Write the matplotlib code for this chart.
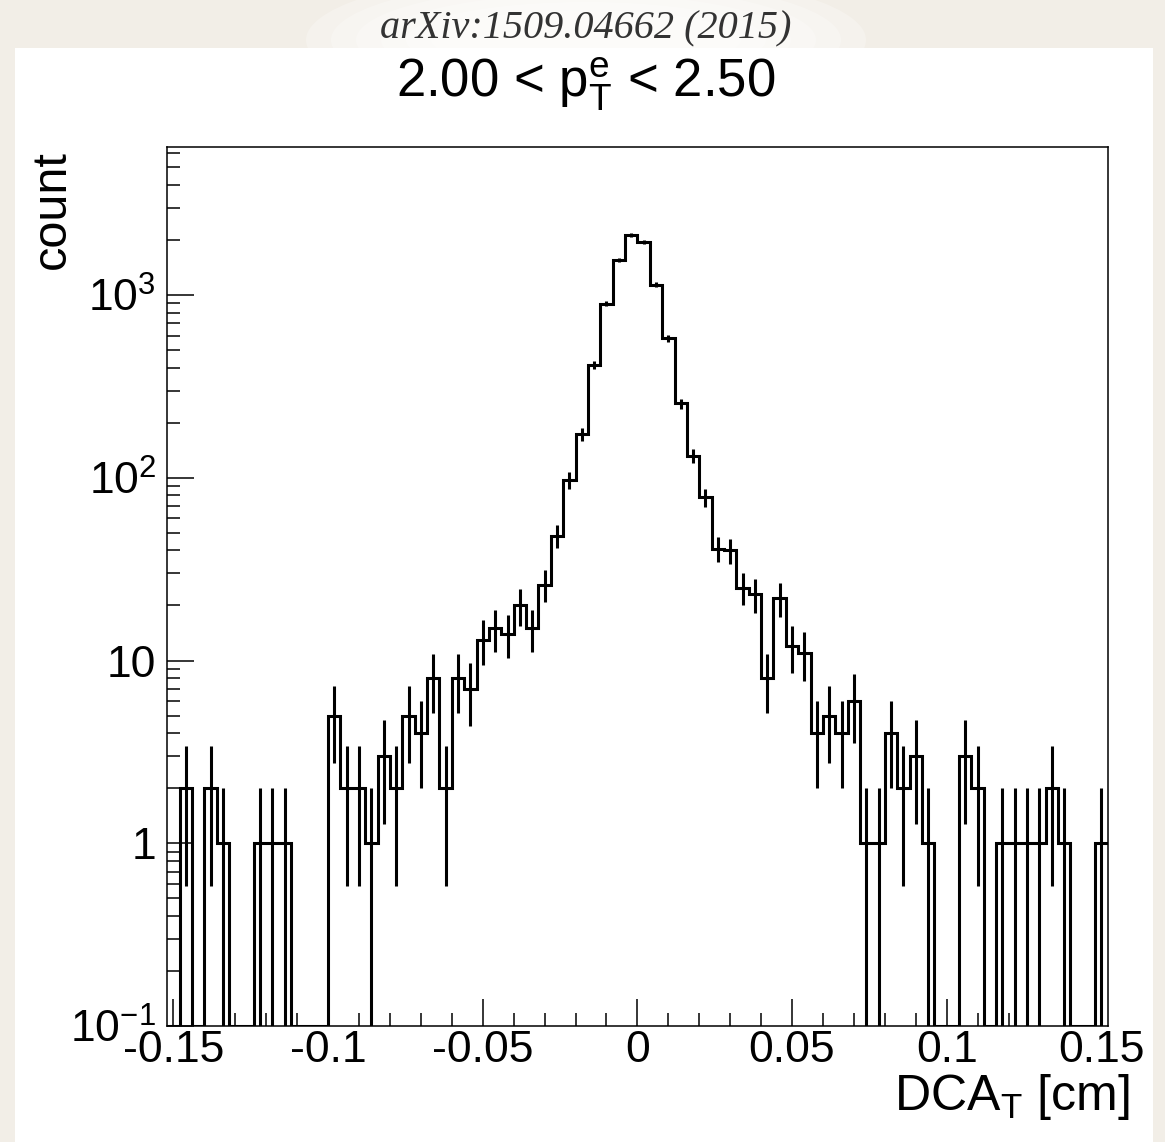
import numpy as np
import matplotlib.pyplot as plt
from matplotlib.patches import Rectangle, Ellipse
from matplotlib.ticker import FixedLocator, FixedFormatter, MultipleLocator, LogLocator, NullFormatter, FuncFormatter

plt.rcParams['font.family'] = ['Liberation Sans', 'DejaVu Sans']
plt.rcParams['mathtext.fontset'] = 'custom'
plt.rcParams['mathtext.rm'] = 'Liberation Sans'
plt.rcParams['mathtext.it'] = 'Liberation Sans:italic'
plt.rcParams['mathtext.bf'] = 'Liberation Sans:bold'

# DCA_T histogram, 76 bins of 0.004 cm from -0.152 to 0.152
bin_lo = -0.152
bin_hi = 0.152
counts = [0, 2, 0, 2, 1, 0, 0, 1, 1, 1,
          0, 0, 0, 5, 2, 2, 1, 3, 2, 5,
          4, 8, 2, 8, 7, 13, 15, 14, 20, 15,
          26, 48, 97, 173, 414, 896, 1550, 2130, 1955, 1140,
          580, 255, 132, 78, 41, 40, 25, 23, 8, 22,
          12, 11, 4, 5, 4, 6, 1, 1, 4, 2,
          3, 1, 0, 0, 3, 2, 0, 1, 1, 1,
          1, 2, 1, 0, 0, 1]

y_min = 0.1
y_max = 6430
ytick_vals = [0.1, 1, 10, 100, 1000]
ytick_text = ['$\\mathregular{10^{-1}}$', '1', '10', '$\\mathregular{10^{2}}$', '$\\mathregular{10^{3}}$']

W, H = 1165, 1142
fig = plt.figure(figsize=(W / 100, H / 100), dpi=100)
fig.patch.set_facecolor('#f2eee7')


def fx(px):
    return px / W


def fy(py):
    return 1 - py / H


# white panel + soft glow behind the arXiv line
fig.patches.append(Rectangle((fx(15), 0), fx(1153) - fx(15), fy(48), transform=fig.transFigure,
                             facecolor='white', edgecolor='none', zorder=-10))
for k in range(6):
    fig.patches.append(Ellipse((fx(586), fy(40)), fx(560 - 50 * k), (70 - 8 * k) / H * 2,
                               transform=fig.transFigure, facecolor='white', edgecolor='none',
                               alpha=0.25, zorder=-9))

ax = fig.add_axes([fx(167.3), fy(1026), fx(1107.5) - fx(167.3), fy(147.3) - fy(1026)])
ax.set_facecolor('white')
ax.set_zorder(5)

c = np.array(counts, dtype=float)
edges = np.linspace(bin_lo, bin_hi, len(counts) + 1)
centers = 0.5 * (edges[:-1] + edges[1:])
ax.stairs(np.where(c > 0, c, y_min), edges, color='black', lw=2.2, baseline=None)

nz = c > 0
err = np.sqrt(c[nz])
ax.vlines(centers[nz], np.maximum(c[nz] - err, y_min), c[nz] + err, color='black', lw=2.2)

ax.set_xlim(bin_lo, bin_hi)
ax.set_yscale('log')
ax.set_ylim(y_min, y_max)

ax.xaxis.set_major_locator(MultipleLocator(0.05))
ax.xaxis.set_minor_locator(MultipleLocator(0.01))
ax.xaxis.set_major_formatter(FuncFormatter(lambda v, p: '%g' % round(v, 3)))
ax.yaxis.set_major_locator(FixedLocator(ytick_vals))
ax.yaxis.set_major_formatter(FixedFormatter(ytick_text))
ax.yaxis.set_minor_locator(LogLocator(base=10, subs=np.arange(2, 10)))
ax.yaxis.set_minor_formatter(NullFormatter())

ax.tick_params(which='both', direction='in', top=False, right=False, width=1.1, labelsize=32)
ax.tick_params(which='major', length=19.5)
ax.tick_params(which='minor', length=9.5)
ax.tick_params(axis='x', pad=3)
ax.tick_params(axis='y', pad=8)
for s in ax.spines.values():
    s.set_linewidth(1.1)

fig.text(fx(586), fy(38), 'arXiv:1509.04662 (2015)', family='Liberation Serif', style='italic',
         fontsize=29, ha='center', va='baseline', color='#333333')
fig.text(fx(586), fy(97), '2.00 < $\\mathregular{p_{T}^{e}}$ < 2.50', fontsize=38,
         ha='center', va='baseline')
fig.text(fx(203), fy(200), 'Au+Au MB $\\sqrt{\\mathregular{s_{NN}}}$=200 GeV', fontsize=34.5,
         ha='left', va='baseline')
fig.text(fx(203), fy(265), 'PHENIX 2011', fontsize=35, ha='left', va='baseline')
fig.text(fx(1005), fy(229), '(b)', fontsize=42, ha='left', va='baseline')
fig.text(fx(52), fy(150), 'count', fontsize=35, rotation=90, ha='center', va='top')
fig.text(fx(1130), fy(1110), 'DCA$_\\mathregular{T}$ [cm]', fontsize=36, ha='right', va='baseline')

plt.savefig('out.png', dpi=100, facecolor=fig.get_facecolor())
